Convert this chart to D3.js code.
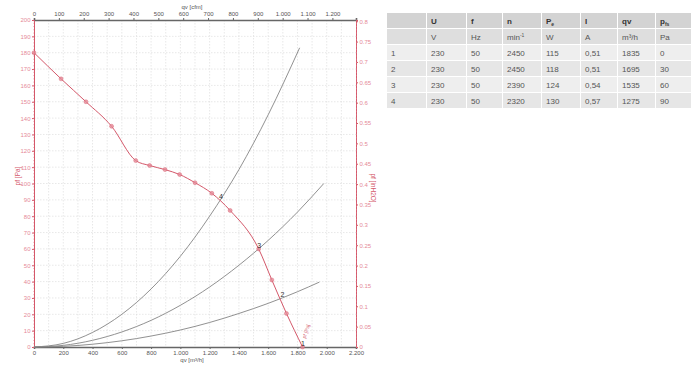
<!DOCTYPE html>
<html>
<head>
<meta charset="utf-8">
<script src="https://cdn.jsdelivr.net/npm/d3@7"></script>
<style>
  body { margin: 0; background: #fff; }
  svg { font-family: "Liberation Sans", Arial, sans-serif; }
</style>
</head>
<body>
<script>
// fan curve (qv m3/h, pf Pa)
var fanQ = [0, 185, 355, 530, 695, 790, 895, 995, 1100, 1215, 1340, 1535, 1625, 1725, 1835];
var fanP = [180, 164, 150, 135, 114, 111, 108.5, 105.5, 100.5, 94, 83.5, 60, 41, 20.5, 0];

// system curves (qv, pf)
var sys4Q = [0, 200, 400, 600, 800, 1000, 1200, 1400, 1600, 1815];
var sys4P = [0, 2.2, 8.9, 20, 35.5, 55.5, 80, 108.5, 142, 183];
var sys3Q = [0, 200, 400, 600, 800, 1000, 1200, 1400, 1600, 1800, 1980];
var sys3P = [0, 1, 4.1, 9.2, 16.3, 25.5, 36.7, 50, 65.2, 82.5, 100];
var sys2Q = [0, 200, 400, 600, 800, 1000, 1200, 1400, 1600, 1800, 1950];
var sys2P = [0, 0.4, 1.7, 3.8, 6.7, 10.4, 15, 20.5, 26.7, 33.8, 39.7];

// operating points
var opLabels = ["1", "2", "3", "4"];
var opQ = [1835, 1695, 1535, 1275];
var opP = [0, 30, 60, 90];

// table
var tabHead = ["", "U", "f", "n", "P", "I", "qv", "p"];
var tabUnits = ["", "V", "Hz", "min", "W", "A", "m\u00b3/h", "Pa"];
var tabRows = [
  ["1", "230", "50", "2450", "115", "0,51", "1835", "0"],
  ["2", "230", "50", "2450", "118", "0,51", "1695", "30"],
  ["3", "230", "50", "2390", "124", "0,54", "1535", "60"],
  ["4", "230", "50", "2320", "130", "0,57", "1275", "90"]
];
var colX = [387, 427, 467, 503, 542, 581, 618, 656, 692];

var red = "#d4586a", redLight = "#e58a97", gray = "#555";
var pL = 34, pR = 356, pT = 20, pB = 347;

var svg = d3.select("body").append("svg")
  .attr("width", 700).attr("height", 368);

var x = d3.scaleLinear().domain([0, 2200]).range([pL, pR]);
var xCfm = d3.scaleLinear().domain([0, 2200 / 1.699]).range([pL, pR]);
var y = d3.scaleLinear().domain([0, 200]).range([pB, pT]);
var yIn = d3.scaleLinear().domain([0, 200 * 0.004015]).range([pB, pT]);

var dotFmt = function(v) { return d3.format(",")(v).replace(/,/g, "."); };

// grid
var grid = svg.append("g").attr("stroke", "#d8d8d8").attr("stroke-width", 0.6)
  .attr("stroke-dasharray", "1.5,1.5");
grid.selectAll("line.h").data(d3.range(10, 200, 10)).enter().append("line")
  .attr("x1", pL).attr("x2", pR).attr("y1", y).attr("y2", y);
grid.selectAll("line.v").data(d3.range(100, 2200, 100)).enter().append("line")
  .attr("y1", pT).attr("y2", pB).attr("x1", x).attr("x2", x);

// axes
function styleAxis(g, col, txtCol) {
  g.selectAll("path").attr("stroke", col);
  g.selectAll("line").attr("stroke", col);
  g.selectAll("text").attr("fill", txtCol).style("font-size", "6px");
}

var gB = svg.append("g").attr("transform", "translate(0," + pB + ")")
  .call(d3.axisBottom(x).tickValues(d3.range(0, 2201, 200)).tickFormat(dotFmt).tickSize(2).tickPadding(2));
styleAxis(gB, "#666", gray);
gB.select("path").attr("stroke-width", 1.6);

var gT = svg.append("g").attr("transform", "translate(0," + pT + ")")
  .call(d3.axisTop(xCfm).tickValues(d3.range(0, 1201, 100)).tickFormat(dotFmt).tickSize(2).tickPadding(2));
styleAxis(gT, "#666", gray);
gT.select("path").attr("stroke-width", 1.6);

var gL = svg.append("g").attr("transform", "translate(" + pL + ",0)")
  .call(d3.axisLeft(y).tickValues(d3.range(0, 201, 10)).tickSize(2).tickPadding(1.5));
styleAxis(gL, red, redLight);
// minor ticks
svg.append("g").selectAll("line").data(d3.range(0, 201, 2)).enter().append("line")
  .attr("x1", pL - 1).attr("x2", pL).attr("y1", y).attr("y2", y)
  .attr("stroke", redLight).attr("stroke-width", 0.5);

var gR = svg.append("g").attr("transform", "translate(" + pR + ",0)")
  .call(d3.axisRight(yIn).tickValues(d3.range(0, 16).map(function(i) { return i * 0.05; }).concat([0.8]))
    .tickFormat(function(v) { return d3.format("~g")(+v.toFixed(2)); }).tickSize(2).tickPadding(1.5));
styleAxis(gR, red, redLight);
svg.append("g").selectAll("line").data(d3.range(0, 201, 2)).enter().append("line")
  .attr("x1", pR).attr("x2", pR + 1).attr("y1", y).attr("y2", y)
  .attr("stroke", redLight).attr("stroke-width", 0.5);

// axis titles
svg.append("text").attr("x", 192).attr("y", 9).attr("text-anchor", "middle")
  .style("font-size", "6px").attr("fill", gray).text("qv [cfm]");
svg.append("text").attr("x", 192).attr("y", 362).attr("text-anchor", "middle")
  .style("font-size", "6px").attr("fill", gray).text("qv [m\u00b3/h]");
svg.append("text").attr("transform", "translate(20,176) rotate(-90)").attr("text-anchor", "middle")
  .style("font-size", "6.5px").attr("fill", red).text("pf [Pa]");
svg.append("text").attr("transform", "translate(371,188) rotate(90)").attr("text-anchor", "middle")
  .style("font-size", "6.5px").attr("fill", red).text("pf [inH2O]");

// system curves
var line = d3.line().x(function(d) { return x(d[0]); }).y(function(d) { return y(d[1]); })
  .curve(d3.curveMonotoneX);
[[sys4Q, sys4P], [sys3Q, sys3P], [sys2Q, sys2P]].forEach(function(s) {
  svg.append("path").datum(d3.zip(s[0], s[1])).attr("d", line)
    .attr("fill", "none").attr("stroke", "#858585").attr("stroke-width", 0.9);
});

// fan curve
var fan = d3.zip(fanQ, fanP);
svg.append("path").datum(fan).attr("d", line)
  .attr("fill", "none").attr("stroke", red).attr("stroke-width", 1);
svg.selectAll("circle.fan").data(fan).enter().append("circle")
  .attr("cx", function(d) { return x(d[0]); }).attr("cy", function(d) { return y(d[1]); })
  .attr("r", 2).attr("fill", redLight).attr("fill-opacity", 0.8)
  .attr("stroke", red).attr("stroke-width", 0.4);

svg.append("text").attr("transform", "translate(" + (x(1835) + 3) + "," + (y(5)) + ") rotate(-72)")
  .style("font-size", "5px").attr("fill", red).text("pf [Pa]");

// operating point labels
svg.selectAll("text.op").data(opLabels).enter().append("text")
  .attr("x", function(d, i) { return x(opQ[i]) - 1.5; })
  .attr("y", function(d, i) { return y(opP[i]) - 1; })
  .style("font-size", "7px").attr("fill", "#333").text(function(d) { return d; });

// table
var rowY = [13, 29, 45, 61, 77, 93, 109];
var allRows = [tabHead, tabUnits].concat(tabRows);
var bgs = ["#d3d3d3", "#dedede", "#eeeeee", "#e6e6e6", "#eeeeee", "#e6e6e6"];
allRows.forEach(function(r, ri) {
  r.forEach(function(c, ci) {
    svg.append("rect").attr("x", colX[ci]).attr("y", rowY[ri])
      .attr("width", colX[ci + 1] - colX[ci] - 1).attr("height", rowY[ri + 1] - rowY[ri] - 1)
      .attr("fill", bgs[ri]);
    var t = svg.append("text").attr("x", colX[ci] + 4).attr("y", rowY[ri] + 11)
      .style("font-size", "8px").attr("fill", ri == 0 ? "#333" : gray)
      .style("font-weight", ri == 0 ? "bold" : "normal").text(c);
    if (ri == 0 && ci == 4) t.append("tspan").attr("dy", 2).style("font-size", "5px").text("e");
    if (ri == 0 && ci == 7) t.append("tspan").attr("dy", 2).style("font-size", "5px").text("fs");
    if (ri == 1 && ci == 3) t.append("tspan").attr("dy", -3).style("font-size", "5px").text("-1");
  });
});
</script>
</body>
</html>
